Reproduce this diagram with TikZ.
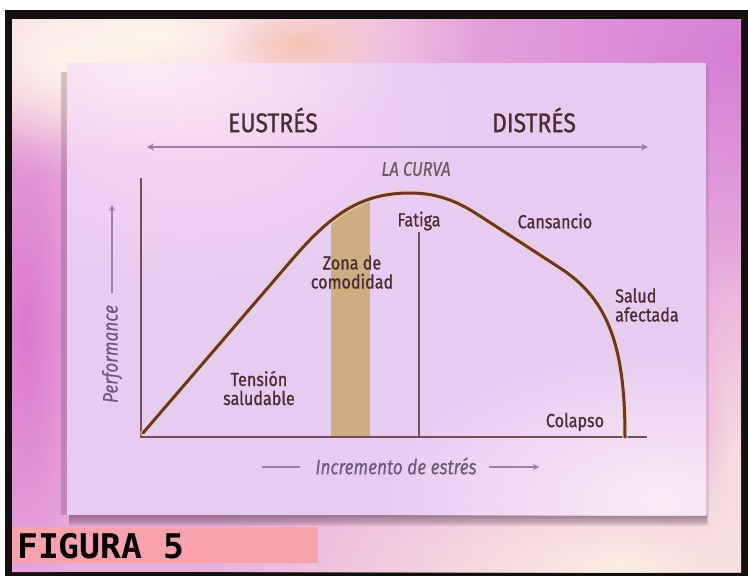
\documentclass[tikz,border=0pt]{standalone}
\usepackage{fontspec}
\setmainfont[FakeStretch=0.85, FakeBold=0.9]{Fira Sans}
\newfontfamily\softfont[FakeStretch=0.82, FakeBold=0.3]{Fira Sans}
\newfontfamily\figfont[FakeStretch=1.02]{DejaVu Sans Mono}
\usetikzlibrary{arrows.meta,fadings}

\definecolor{frameblack}{HTML}{141010}
\definecolor{bgbase}{HTML}{E8AEDC}
\definecolor{bghot}{HTML}{DC78CC}
\definecolor{bgcream}{HTML}{FFF8EA}
\definecolor{bgpeach}{HTML}{F4C4B4}
\definecolor{bgmagenta}{HTML}{D67ED4}
\definecolor{bgwarm}{HTML}{FBEDE2}
\definecolor{cardbase}{HTML}{E7CCF2}
\definecolor{cardlight}{HTML}{FBEAF6}
\definecolor{cardpink}{HTML}{F6D6F0}
\definecolor{ink}{HTML}{4A2E34}
\definecolor{axisc}{HTML}{735058}
\definecolor{guidec}{HTML}{9A80A6}
\definecolor{curvec}{HTML}{6A352E}
\definecolor{curveglow}{HTML}{F2D6A4}
\definecolor{bandc}{HTML}{CDAE80}
\definecolor{softlab}{HTML}{6E5A80}
\definecolor{tagpink}{HTML}{F7A2AC}
\definecolor{shadowc}{HTML}{5E3C52}

\tikzfading[name=softglow, inner color=transparent!0, outer color=transparent!100]

\tikzset{
  head/.style={text=ink, font=\fontsize{27}{30}\selectfont},
  lab/.style={text=ink, font=\fontsize{19}{19}\selectfont, align=center, inner sep=0pt},
  softtext/.style={text=softlab, font=\softfont\fontsize{21}{21}\selectfont\itshape, inner sep=0pt},
  guide/.style={draw=guidec, line width=1.6pt},
  axisline/.style={draw=axisc, line width=2.4pt},
}

% rise, peak, decline and collapse of performance
\newcommand{\perfcurve}{(143,433) -- (290,262) .. controls (330,215) and (360,193) .. (410,193) .. controls (440,193) and (460,203) .. (480,216) -- (560,268) .. controls (610,300) and (625,350) .. (625,437)}

\begin{document}
\begin{tikzpicture}[x=1pt,y=-1pt]
\useasboundingbox (0,0) rectangle (748,576);
\fill[white] (0,0) rectangle (748,576);
\fill[frameblack] (5,10) rectangle (748,576);

% backdrop behind the card
\begin{scope}
  \clip (12,19) rectangle (741,572);
  \fill[bgbase] (12,19) rectangle (741,572);
  \fill[bghot, path fading=softglow] (25,330) ellipse (70 and 300);
  \fill[bgmagenta, path fading=softglow] (740,50) ellipse (360 and 240);
  \fill[bgcream, path fading=softglow] (150,35) ellipse (330 and 150);
  \fill[bgcream, opacity=0.8, path fading=softglow] (60,60) ellipse (120 and 90);
  \fill[bgpeach, path fading=softglow] (300,45) ellipse (80 and 40);
  \fill[bgwarm, path fading=softglow] (620,565) ellipse (430 and 140);
  \fill[bgwarm, opacity=0.7, path fading=softglow] (735,450) ellipse (50 and 200);
\end{scope}

% card shadow
\foreach \k in {1,...,5}{
  \fill[shadowc, opacity=0.14] (69,513+\k*0.4) rectangle (705+\k*0.5,515+\k*2.2);
}
\fill[shadowc, opacity=0.25] (61,72) rectangle (67,515);
\fill[shadowc, opacity=0.12] (706,66) rectangle (709,518);
% card
\begin{scope}
  \clip (67,63) rectangle (706,515);
  \fill[cardbase] (67,63) rectangle (706,515);
  \fill[cardpink, path fading=softglow] (190,120) ellipse (280 and 170);
  \fill[cardlight, path fading=softglow] (150,70) ellipse (260 and 90);
  \fill[cardlight, path fading=softglow] (660,500) ellipse (280 and 150);
\end{scope}

% headings and the double arrow
\node[head] (eu) at (273,120) {EUSTRÉS};
\node[head] (di) at (534,120) {DISTRÉS};
\coordinate (arL) at (147,147);
\coordinate (arR) at (648,147);
\draw[guide, {Stealth[length=7pt,width=7pt]}-{Stealth[length=7pt,width=7pt]}] (arL) -- (arR);
\node[text=ink!80, font=\softfont\fontsize{20}{20}\selectfont\itshape, inner sep=0pt] (title) at (416,169) {LA CURVA};

% comfort band, bounded above by the curve
\begin{scope}
  \clip \perfcurve -- (143,437) -- cycle;
  \fill[bandc] (331,180) rectangle (370,437);
\end{scope}

% axes
\coordinate (O) at (141,437);
\coordinate (ytop) at (141,178);
\coordinate (xend) at (647,437);
\draw[axisline] (ytop) -- (O) -- (xend);

% fatigue marker
\coordinate (fat0) at (419,437);
\coordinate (fat1) at (419,232);
\draw[axisline] (fat0) -- (fat1);

% the performance curve
\draw[curveglow, line width=5.5pt, opacity=0.8, line cap=round, line join=round] \perfcurve;
\draw[curvec, line width=3pt, line cap=round, line join=round] \perfcurve;

% labels
\node[lab] (fatiga) at (419,221) {Fatiga};
\node[lab] (cans) at (555,221) {Cansancio};
\node[lab] (zona) at (352,272) {Zona de\\comodidad};
\node[lab, align=left, anchor=west] (salud) at (615,305) {Salud\\afectada};
\node[lab] (tension) at (259,388) {Tensión\\saludable};
\node[lab] (colapso) at (575,422) {Colapso};

% vertical axis caption
\node[softtext, rotate=90] (perf) at (112,354) {Performance};
\coordinate (pa0) at (112,293);
\coordinate (pa1) at (112,205);
\draw[guide, line width=1.3pt, -{Stealth[length=6pt,width=6pt]}] (pa0) -- (pa1);

% horizontal axis caption
\node[softtext] (incr) at (396,466) {Incremento de estrés};
\coordinate (ia0) at (262,467);
\coordinate (ia1) at (300,467);
\coordinate (ib0) at (489,467);
\coordinate (ib1) at (539,467);
\draw[guide, line width=1.3pt] (ia0) -- (ia1);
\draw[guide, line width=1.3pt, -{Stealth[length=6pt,width=6pt]}] (ib0) -- (ib1);

% figure tag
\fill[tagpink] (12,527) rectangle (318,563);
\node[anchor=west, inner sep=0pt, text=black, font=\figfont\bfseries\fontsize{34}{34}\selectfont] (tag) at (17,546) {FIGURA 5};
\end{tikzpicture}
\end{document}
